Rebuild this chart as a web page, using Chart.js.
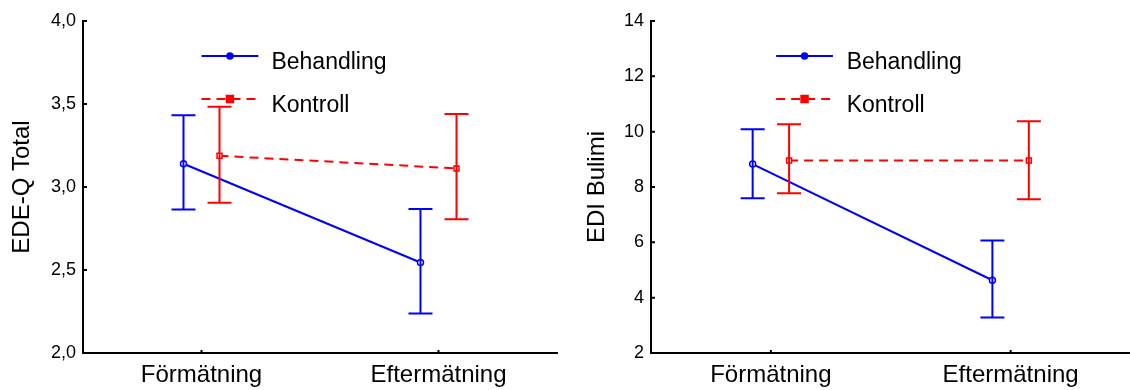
<!DOCTYPE html>
<html lang="sv">
<head>
<meta charset="UTF-8">
<title>EDE-Q Total och EDI Bulimi</title>
<script src="https://cdn.jsdelivr.net/npm/chart.js"></script>
<style>
  body { margin: 0; background: #fff; }
  .wrap { position: relative; width: 1130px; height: 390px; overflow: hidden; }
  canvas { position: absolute; top: 0; }
  #left { left: 0; }
  #right { left: 565px; }
</style>
</head>
<body>
<div class="wrap">
  <canvas id="left" width="565" height="390"></canvas>
  <canvas id="right" width="571" height="390"></canvas>
</div>
<script>
const categories = ['Förmätning', 'Eftermätning'];
const seriesNames = ['Behandling', 'Kontroll'];

// EDE-Q Total (mean, lower, upper)
const edeBehandling = [3.14, 2.545];
const edeBehandlingLow = [2.865, 2.238];
const edeBehandlingHigh = [3.432, 2.867];
const edeKontroll = [3.188, 3.112];
const edeKontrollLow = [2.905, 2.805];
const edeKontrollHigh = [3.483, 3.44];
const edeTicks = [2.0, 2.5, 3.0, 3.5, 4.0];

// EDI Bulimi (mean, lower, upper)
const ediBehandling = [8.83, 4.63];
const ediBehandlingLow = [7.59, 3.28];
const ediBehandlingHigh = [10.09, 6.07];
const ediKontroll = [8.96, 8.96];
const ediKontrollLow = [7.77, 7.56];
const ediKontrollHigh = [10.27, 10.38];
const ediTicks = [2, 4, 6, 8, 10, 12, 14];

const BLUE = '#0000ff';
const RED = '#ff0000';
const OFFSET = 0.076;   // horizontal shift of the two groups
const FONT = '"Liberation Sans", Arial, sans-serif';

function points(values, shift) {
  return values.map((v, i) => ({ x: i + shift, y: v }));
}

// vertical error bars with caps
const errorBars = {
  id: 'errorBars',
  afterDatasetsDraw(chart) {
    const { ctx, scales: { x, y } } = chart;
    chart.data.datasets.forEach(ds => {
      ctx.save();
      ctx.strokeStyle = ds.borderColor;
      ctx.lineWidth = 2;
      ds.data.forEach((p, i) => {
        const px = x.getPixelForValue(p.x);
        const lo = y.getPixelForValue(ds.errLow[i]);
        const hi = y.getPixelForValue(ds.errHigh[i]);
        ctx.beginPath();
        ctx.moveTo(px, lo); ctx.lineTo(px, hi);
        ctx.moveTo(px - 12, lo); ctx.lineTo(px + 12, lo);
        ctx.moveTo(px - 12, hi); ctx.lineTo(px + 12, hi);
        ctx.stroke();
      });
      ctx.restore();
    });
  }
};

// short tick marks pointing into the plot
const innerTicks = {
  id: 'innerTicks',
  afterDraw(chart) {
    const { ctx, scales: { x, y }, chartArea } = chart;
    ctx.save();
    ctx.strokeStyle = '#000';
    ctx.lineWidth = 2;
    ctx.beginPath();
    y.ticks.forEach(t => {
      const py = y.getPixelForValue(t.value);
      ctx.moveTo(chartArea.left - 1, py); ctx.lineTo(chartArea.left + 4, py);
    });
    x.ticks.forEach(t => {
      const px = x.getPixelForValue(t.value);
      ctx.moveTo(px, chartArea.bottom); ctx.lineTo(px, chartArea.bottom - 3);
    });
    ctx.stroke();
    ctx.restore();
  }
};

// legend inside the plot
const innerLegend = {
  id: 'innerLegend',
  afterDraw(chart, args, opts) {
    const { ctx, scales: { x }, chartArea } = chart;
    const x0 = x.getPixelForValue(opts.start);
    const x1 = x.getPixelForValue(opts.end);
    const xt = x.getPixelForValue(opts.text);
    chart.data.datasets.forEach((ds, i) => {
      const yy = chartArea.top + opts.rows[i];
      ctx.save();
      ctx.strokeStyle = ds.borderColor;
      ctx.lineWidth = 2;
      ctx.setLineDash(ds.borderDash || []);
      ctx.beginPath();
      ctx.moveTo(x0, yy); ctx.lineTo(x1, yy);
      ctx.stroke();
      ctx.setLineDash([]);
      const mx = (x0 + x1) / 2;
      ctx.fillStyle = ds.borderColor;
      ctx.lineWidth = 1.5;
      ctx.beginPath();
      if (ds.pointStyle === 'rect') ctx.rect(mx - 3.5, yy - 3.5, 7, 7);
      else ctx.arc(mx, yy, 3, 0, Math.PI * 2);
      ctx.fill(); ctx.stroke();
      ctx.fillStyle = '#000';
      ctx.font = '23px ' + FONT;
      ctx.textBaseline = 'alphabetic';
      ctx.fillText(ds.label, xt, yy + 13);
      ctx.restore();
    });
  }
};

function makeChart(id, opt) {
  return new Chart(document.getElementById(id), {
    type: 'line',
    data: {
      datasets: [
        {
          label: seriesNames[0],
          data: points(opt.beh, -OFFSET),
          errLow: opt.behLow, errHigh: opt.behHigh,
          borderColor: BLUE, borderWidth: 2,
          pointStyle: 'circle', pointRadius: 3, pointBorderWidth: 1.5,
          pointBackgroundColor: '#fff', pointBorderColor: BLUE
        },
        {
          label: seriesNames[1],
          data: points(opt.kon, OFFSET),
          errLow: opt.konLow, errHigh: opt.konHigh,
          borderColor: RED, borderWidth: 2, borderDash: [9, 6],
          pointStyle: 'rect', pointRadius: 3.5, pointBorderWidth: 1.5,
          pointBackgroundColor: '#fff', pointBorderColor: RED
        }
      ]
    },
    options: {
      responsive: false,
      animation: false,
      devicePixelRatio: 1,
      layout: { padding: { top: 21, right: opt.padRight, left: 0, bottom: 0 } },
      plugins: {
        legend: { display: false },
        tooltip: { enabled: false },
        innerLegend: opt.legend
      },
      scales: {
        x: {
          type: 'linear', min: -0.5, max: 1.5,
          afterBuildTicks: s => { s.ticks = categories.map((c, i) => ({ value: i })); },
          afterFit: s => { s.height = 37; },
          grid: { display: false, tickLength: 0 },
          border: { display: true, color: '#000', width: 2 },
          ticks: {
            padding: 8, color: '#000', font: { family: FONT, size: 24 },
            callback: v => categories[v]
          }
        },
        y: {
          min: opt.ticks[0], max: opt.ticks[opt.ticks.length - 1],
          afterBuildTicks: s => { s.ticks = opt.ticks.map(v => ({ value: v })); },
          afterFit: s => { s.width = opt.axisWidth; },
          grid: { display: false, tickLength: 0 },
          border: { display: true, color: '#000', width: 2 },
          title: {
            display: true, text: opt.title, color: '#000',
            font: { family: FONT, size: 24 }, padding: { top: opt.titlePad, bottom: 0 }
          },
          ticks: {
            padding: 7, color: '#000', font: { family: FONT, size: 18 },
            callback: opt.fmt
          }
        }
      }
    },
    plugins: [errorBars, innerTicks, innerLegend]
  });
}

makeChart('left', {
  beh: edeBehandling, behLow: edeBehandlingLow, behHigh: edeBehandlingHigh,
  kon: edeKontroll, konLow: edeKontrollLow, konHigh: edeKontrollHigh,
  ticks: edeTicks, title: 'EDE-Q Total', titlePad: 8, axisWidth: 83, padRight: 8,
  fmt: v => v.toFixed(1).replace('.', ','),
  legend: { start: 0, end: 0.24, text: 0.295, rows: [35, 78] }
});

makeChart('right', {
  beh: ediBehandling, behLow: ediBehandlingLow, behHigh: ediBehandlingHigh,
  kon: ediKontroll, konLow: ediKontrollLow, konHigh: ediKontrollHigh,
  ticks: ediTicks, title: 'EDI Bulimi', titlePad: 18, axisWidth: 86, padRight: 0,
  fmt: v => String(v),
  legend: { start: 0.022, end: 0.259, text: 0.316, rows: [35, 78] }
});
</script>
</body>
</html>
